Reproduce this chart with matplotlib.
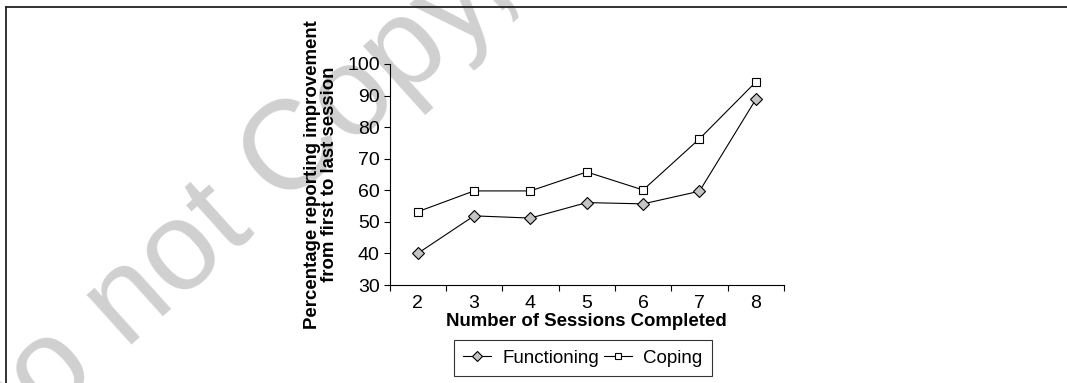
import matplotlib
matplotlib.use('Agg')
import matplotlib.pyplot as plt
from matplotlib.lines import Line2D

# data
sessions = [2, 3, 4, 5, 6, 7, 8]
functioning = [40, 51.9, 51.2, 56.1, 55.7, 59.7, 88.8]
coping = [53.2, 59.8, 59.8, 65.8, 60.1, 76.3, 94.3]
yticks = [30, 40, 50, 60, 70, 80, 90, 100]

W, H = 1067, 383
plt.rcParams['font.family'] = ['Liberation Sans', 'DejaVu Sans']

fig = plt.figure(figsize=(W / 100, H / 100), dpi=100)

# light watermark behind everything
fig.text(228 / W, 1 - 214 / H, 'Do not Copy,', fontsize=91,
         color='#d0d0d0', rotation=42, ha='center', va='center',
         rotation_mode='anchor', zorder=-5)

# frame lines at top and left of the figure
fig.add_artist(Line2D([6 / W, 1], [1 - 7 / H, 1 - 7 / H], color='#222222', lw=1.3))
fig.add_artist(Line2D([6 / W, 6 / W], [0, 1 - 7 / H], color='#222222', lw=1.3))

ax = fig.add_axes([389.5 / W, 1 - 285 / H, (784 - 389.5) / W, 221 / H])
ax.patch.set_alpha(0)

x = list(range(len(sessions)))
ax.plot(x, functioning, color='black', lw=0.8, marker='D', ms=6.5,
        mfc='#c4c4c4', mec='black', mew=0.8, label='Functioning')
ax.plot(x, coping, color='black', lw=0.8, marker='s', ms=6,
        mfc='white', mec='black', mew=0.8, label='Coping')

ax.set_xlim(-0.5, len(sessions) - 0.5)
ax.set_ylim(30, 100)
ax.set_yticks(yticks)
ax.set_xticks(x)
ax.set_xticklabels([str(s) for s in sessions])
ax.set_xticks([i - 0.5 for i in range(len(sessions) + 1)], minor=True)
ax.tick_params(axis='x', which='major', length=0, pad=7, labelsize=14)
ax.tick_params(axis='x', which='minor', length=4, width=0.8, direction='out')
ax.tick_params(axis='y', length=4, width=0.8, pad=3, labelsize=14)

for s in ['top', 'right']:
    ax.spines[s].set_visible(False)
for s in ['left', 'bottom']:
    ax.spines[s].set_linewidth(0.8)

fig.text(321 / W, 1 - 174.5 / H,
         'Percentage reporting improvement\nfrom first to last session',
         rotation=90, ha='center', va='center', fontsize=13.4,
         fontweight='bold', multialignment='center', linespacing=1.0)
fig.text(586 / W, 1 - 322 / H, 'Number of Sessions Completed',
         ha='center', va='center', fontsize=13.4, fontweight='bold')

leg = fig.legend(handles=ax.get_lines(), loc='center', ncol=2,
                 bbox_to_anchor=(583 / W, 1 - 358 / H), fontsize=13.5,
                 frameon=True, fancybox=False, edgecolor='black',
                 handlelength=1.5, handletextpad=0.6, columnspacing=0.25,
                 borderpad=0.5, borderaxespad=0, markerscale=0.8)
leg.get_frame().set_linewidth(0.8)

fig.savefig('out.png', dpi=100)
